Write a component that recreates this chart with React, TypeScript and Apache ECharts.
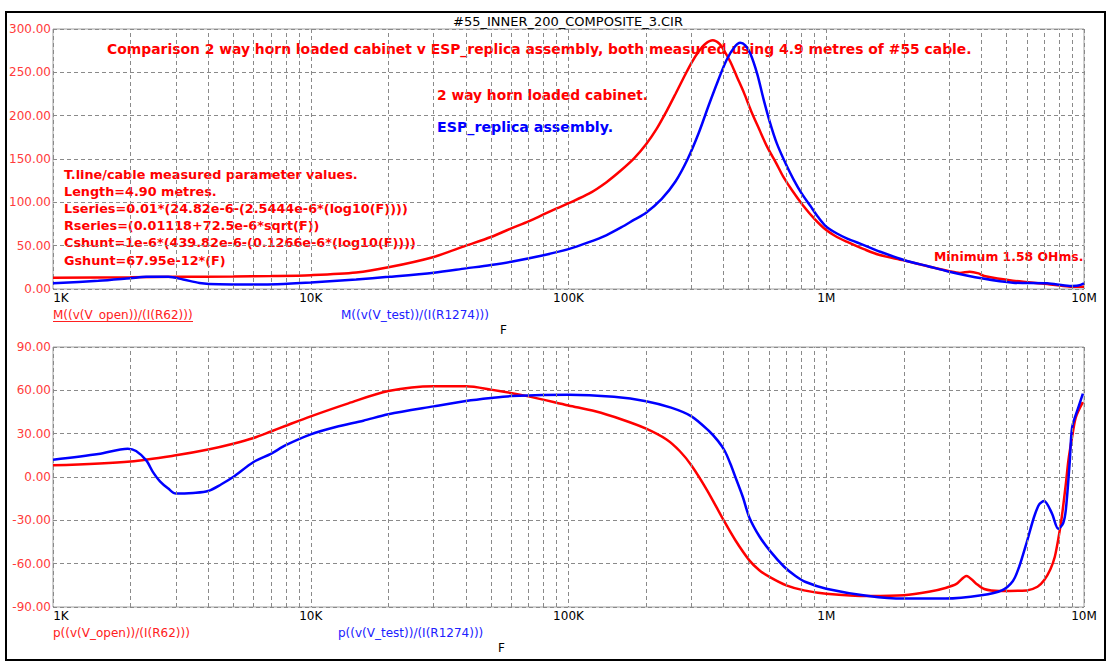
import React, { useEffect, useRef } from 'react';
import * as echarts from 'echarts';

const freqTickLabels = ['1K', '10K', '100K', '1M', '10M'];
const magTickLabels = ['0.00', '50.00', '100.00', '150.00', '200.00', '250.00', '300.00'];
const phaseTickLabels = ['-90.00', '-60.00', '-30.00', '0.00', '30.00', '60.00', '90.00'];
const minorGridFreqs = [
  2e3, 3e3, 4e3, 5e3, 6e3, 7e3, 8e3, 9e3,
  2e4, 3e4, 4e4, 5e4, 6e4, 7e4, 8e4, 9e4,
  2e5, 3e5, 4e5, 5e5, 6e5, 7e5, 8e5, 9e5,
  2e6, 3e6, 4e6, 5e6, 6e6, 7e6, 8e6, 9e6,
];

// |Z| of open (2 way horn loaded cabinet), ohms
const magOpen: [number, number][] = [
  [1e3, 13], [2e3, 13.5], [3e3, 14], [5e3, 14.5], [7e3, 15], [1e4, 16], [1.5e4, 19], [2e4, 25],
  [3e4, 37], [4e4, 50], [5e4, 60], [6e4, 70], [7e4, 78], [8e4, 86], [9e4, 93], [1e5, 99],
  [1.2e5, 110], [1.4e5, 123], [1.6e5, 137], [1.8e5, 151], [2.0e5, 167], [2.2e5, 185],
  [2.4e5, 205], [2.6e5, 225], [2.8e5, 244], [3.0e5, 261], [3.2e5, 274], [3.4e5, 283],
  [3.63e5, 287], [3.85e5, 283], [4.0e5, 276], [4.25e5, 262], [4.5e5, 245], [4.8e5, 226],
  [5.1e5, 206], [5.5e5, 184], [5.9e5, 164], [6.4e5, 145], [6.8e5, 130], [7.4e5, 113],
  [8.1e5, 97], [9e5, 81], [1e6, 68], [1.1e6, 60], [1.2e6, 54.6], [1.4e6, 46], [1.6e6, 39.5],
  [2e6, 33], [2.5e6, 26], [3e6, 20.5], [3.3e6, 18.5], [3.6e6, 20], [3.9e6, 18], [4.1e6, 15],
  [5.3e6, 9.6], [7.2e6, 5.8], [8.3e6, 3.5], [9e6, 2.7], [1e7, 2.7],
];

// |Z| of test (ESP_replica assembly), ohms
const magTest: [number, number][] = [
  [1e3, 6.5], [1.5e3, 9.5], [2e3, 12.5], [2.3e3, 14], [2.8e3, 14], [3.2e3, 11], [3.7e3, 7],
  [4.4e3, 5.4], [6e3, 5.2], [7.4e3, 5.5], [1e4, 7.5], [1.5e4, 11], [2e4, 14], [3e4, 18.8],
  [4e4, 23.8], [5e4, 27.7], [6e4, 31.5], [8e4, 39], [1e5, 46], [1.2e5, 54], [1.4e5, 62],
  [1.6e5, 71], [1.8e5, 80], [2.0e5, 88], [2.3e5, 104], [2.6e5, 124], [2.9e5, 150],
  [3.2e5, 180], [3.5e5, 212], [3.8e5, 240], [4.1e5, 264], [4.4e5, 279], [4.64e5, 284],
  [4.85e5, 281], [5.07e5, 272], [5.4e5, 248], [5.7e5, 220], [6.05e5, 192], [6.43e5, 168],
  [7.0e5, 143], [7.48e5, 126], [8.0e5, 111], [8.67e5, 96], [9.3e5, 83], [1e6, 72],
  [1.1e6, 64], [1.2e6, 58.5], [1.39e6, 51], [1.62e6, 43], [2e6, 33.5], [2.5e6, 26],
  [3e6, 20], [4e6, 12.3], [5.3e6, 7.3], [7.2e6, 6.5], [8.8e6, 3.5], [9.5e6, 4], [1e7, 6.5],
];

// phase of open, degrees
const phaseOpen: [number, number][] = [
  [1e3, 8.1], [2e3, 10.8], [3e3, 15], [4e3, 19], [5e3, 23], [6e3, 27], [7e3, 31.5], [8e3, 35.5],
  [1e4, 42], [1.4e4, 51], [2e4, 59.5], [3e4, 62.8], [4e4, 62.8], [5e4, 60.5], [7e4, 55.8],
  [1e5, 49.5], [1.27e5, 45.5], [1.6e5, 40], [2e5, 33.5], [2.4e5, 26], [2.7e5, 18],
  [3e5, 8], [3.45e5, -9.2], [4e5, -30], [4.44e5, -43.8], [5.03e5, -57.7], [5.5e5, -64.5],
  [6.07e5, -69.5], [7e5, -75], [8.2e5, -78.5], [1e6, -80.8], [1.46e6, -82.4], [2e6, -81.9],
  [2.5e6, -79.5], [2.9e6, -76.8], [3.2e6, -74], [3.5e6, -68.5], [3.8e6, -73.5], [4.1e6, -77.5],
  [4.7e6, -78.9], [6e6, -78.5], [6.6e6, -76], [7e6, -71.5], [7.4e6, -64], [7.7e6, -55.4],
  [8.0e6, -40], [8.2e6, -27.7], [8.5e6, -5], [8.7e6, 11.5], [9.0e6, 28], [9.3e6, 41.5],
  [9.9e6, 51.9],
];

// phase of test, degrees
const phaseTest: [number, number][] = [
  [1e3, 12], [1.5e3, 16], [1.95e3, 19.6], [2.1e3, 18], [2.3e3, 11.5], [2.45e3, 3], [2.6e3, -3],
  [2.8e3, -8], [3e3, -11.5], [3.5e3, -11], [4e3, -9.7], [4.5e3, -5], [5e3, 0], [6e3, 10.4],
  [7e3, 16], [8e3, 22], [1e4, 29.5], [1.25e4, 34.6], [1.6e4, 39], [2e4, 43.4], [3e4, 48.9],
  [4e4, 52.6], [5e4, 54.7], [6e4, 56], [1e5, 57], [1.5e5, 55.5], [2e5, 52.5], [2.5e5, 48],
  [3e5, 42], [3.5e5, 32], [3.8e5, 25], [4.04e5, 18], [4.25e5, 9], [4.44e5, 0], [4.75e5, -14],
  [5.03e5, -28], [5.5e5, -41], [6.07e5, -51.5], [6.88e5, -62.3], [7.6e5, -68.5], [8.32e5, -72.7],
  [1e6, -77.3], [1.46e6, -82.4], [2e6, -84.2], [2.9e6, -84.2], [4e6, -81.9], [4.8e6, -78.5],
  [5.3e6, -72], [5.6e6, -62.3], [6.0e6, -45], [6.4e6, -27.7], [6.7e6, -19], [7.0e6, -16.6],
  [7.5e6, -25], [7.95e6, -35.8], [8.3e6, -32], [8.5e6, -23], [8.8e6, 10], [9.0e6, 34.6],
  [9.5e6, 48], [9.9e6, 57.7],
];

const titleText = '#55_INNER_200_COMPOSITE_3.CIR';
const headline = 'Comparison 2 way horn loaded cabinet v ESP_replica assembly, both measured using 4.9 metres of #55 cable.';
const legendOpen = '2 way horn loaded cabinet.';
const legendTest = 'ESP_replica assembly.';
const paramLines = [
  'T.line/cable measured parameter values.',
  'Length=4.90 metres.',
  'Lseries=0.01*(24.82e-6-(2.5444e-6*(log10(F))))',
  'Rseries=(0.01118+72.5e-6*sqrt(F))',
  'Cshunt=1e-6*(439.82e-6-(0.1266e-6*(log10(F))))',
  'Gshunt=67.95e-12*(F)',
];
const minimumNote = 'Minimum 1.58 OHms.';
const traceLabels = {
  magOpen: 'M((v(V_open))/(I(R62)))',
  magTest: 'M((v(V_test))/(I(R1274)))',
  phaseOpen: 'p((v(V_open))/(I(R62)))',
  phaseTest: 'p((v(V_test))/(I(R1274)))',
};
const xAxisName = 'F';

const RED = '#ff0000';
const BLUE = '#0000ff';
const GRIDC = '#8a8a8a';
const FONT = '"DejaVu Sans", sans-serif';

export default function App() {
  const ref = useRef<HTMLDivElement>(null);
  useEffect(() => {
    document.body.style.margin = '0';
    const chart = echarts.init(ref.current!, undefined, { renderer: 'svg' });
    const fmtX = (v: number) => {
      const i = Math.round(Math.log10(v)) - 3;
      const s = freqTickLabels[i] ?? '';
      return i === 0 ? `{first|${s}}` : s;
    };
    const mkX = (gi: number) => ({
      type: 'log' as const,
      gridIndex: gi,
      logBase: 10,
      min: 1e3,
      max: 1e7,
      splitNumber: 4,
      axisLine: { show: false },
      axisTick: { show: false },
      splitLine: { show: true, lineStyle: { color: GRIDC, type: [4, 3], width: 1 } },
      axisLabel: {
        formatter: fmtX,
        color: '#000',
        fontFamily: FONT,
        fontSize: 12,
        margin: 3,
        rich: {
          first: { padding: [0, 0, 0, 16], color: '#000', fontFamily: FONT, fontSize: 12 },
        },
      },
    });
    const mkY = (gi: number, min: number, max: number, interval: number, labels: string[]) => ({
      type: 'value' as const,
      gridIndex: gi,
      min,
      max,
      interval,
      axisLine: { show: false },
      axisTick: { show: false },
      splitLine: { show: true, lineStyle: { color: GRIDC, type: [4, 3], width: 1 } },
      axisLabel: {
        formatter: (v: number) => labels[Math.round((v - min) / interval)] ?? '',
        color: '#ff3b3b',
        fontFamily: FONT,
        fontSize: 12,
        margin: 2,
      },
    });
    const minorLines = {
      silent: true,
      symbol: ['none', 'none'],
      label: { show: false },
      lineStyle: { color: GRIDC, type: [4, 3], width: 1 },
      data: minorGridFreqs.map((f) => ({ xAxis: f })),
      animation: false,
    };
    const line = (name: string, data: [number, number][], color: string, gi: number, withMinor: boolean) => ({
      name,
      type: 'line' as const,
      xAxisIndex: gi,
      yAxisIndex: gi,
      data,
      showSymbol: false,
      smooth: 0.3,
      lineStyle: { color, width: 2.5 },
      itemStyle: { color },
      z: 3,
      markLine: withMinor ? minorLines : undefined,
    });
    const txt = (text: string, x: number, y: number, fill: string, font: string, align = 'left') => ({
      type: 'text',
      x,
      y,
      silent: true,
      style: { text, fill, font, align, verticalAlign: 'middle' },
    });
    const bold = (px: number) => `bold ${px}px ${FONT}`;
    const reg = `12px ${FONT}`;
    chart.setOption({
      animation: false,
      backgroundColor: '#ffffff',
      grid: [
        { left: 53, top: 29, width: 1031, height: 260, show: true, borderColor: '#a0a0a0', borderWidth: 1, backgroundColor: 'transparent' },
        { left: 53, top: 347, width: 1031, height: 260, show: true, borderColor: '#a0a0a0', borderWidth: 1, backgroundColor: 'transparent' },
      ],
      xAxis: [mkX(0), mkX(1)],
      yAxis: [mkY(0, 0, 300, 50, magTickLabels), mkY(1, -90, 90, 30, phaseTickLabels)],
      series: [
        line('magOpen', magOpen, RED, 0, true),
        line('magTest', magTest, BLUE, 0, false),
        line('phaseOpen', phaseOpen, RED, 1, true),
        line('phaseTest', phaseTest, BLUE, 1, false),
      ],
      graphic: [
        { type: 'rect', silent: true, shape: { x: 6, y: 12, width: 1099, height: 648 }, style: { fill: 'none', stroke: '#000', lineWidth: 2 } },
        txt(titleText, 568, 21, '#000', `13px ${FONT}`, 'center'),
        txt(headline, 107, 49, RED, bold(13.9)),
        txt(legendOpen, 437, 95, RED, bold(13.8)),
        txt(legendTest, 437, 127, BLUE, bold(14.2)),
        ...paramLines.map((t, i) => txt(t, 64, 174 + i * 17.2, RED, bold(12.8))),
        txt(minimumNote, 934, 256, RED, bold(12.4)),
        txt(traceLabels.magOpen, 53, 315, '#ff2020', reg),
        { type: 'line', silent: true, shape: { x1: 53, y1: 321.5, x2: 193, y2: 321.5 }, style: { stroke: '#ff2020', lineWidth: 1 } },
        txt(traceLabels.magTest, 341, 315, '#2020ff', reg),
        txt(xAxisName, 500, 330, '#000', reg),
        txt(traceLabels.phaseOpen, 53, 633, '#ff2020', reg),
        txt(traceLabels.phaseTest, 338, 633, '#2020ff', reg),
        txt(xAxisName, 498, 648, '#000', reg),
      ],
    });
    return () => chart.dispose();
  }, []);
  return <div ref={ref} style={{ position: 'fixed', left: 0, top: 0, width: 1111, height: 662, background: '#fff' }} />;
}
